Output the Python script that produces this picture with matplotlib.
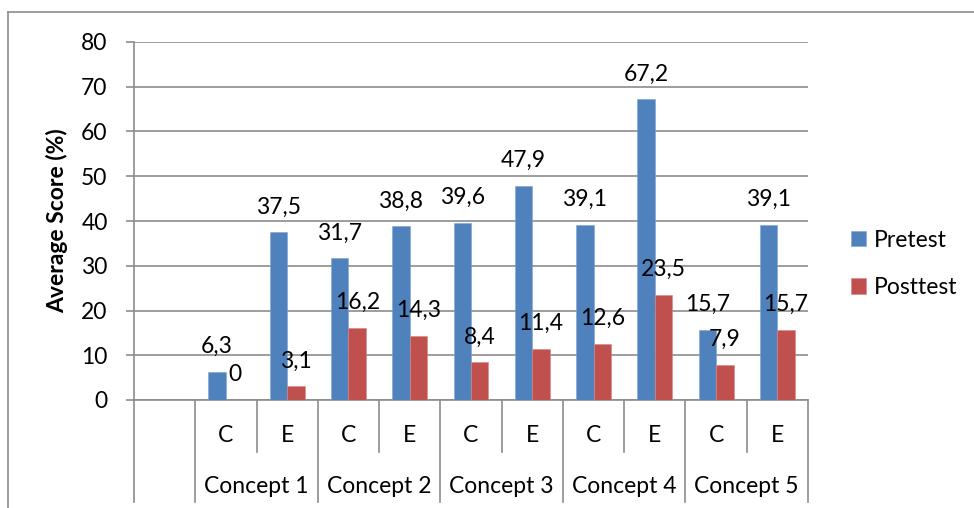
import matplotlib
matplotlib.use('Agg')
import numpy as np
import matplotlib.pyplot as plt
from matplotlib.lines import Line2D

plt.rcParams['font.family'] = ['Lato', 'DejaVu Sans']

# data: first slot of the category axis is left empty
groups = ['', 'Concept 1', 'Concept 2', 'Concept 3', 'Concept 4', 'Concept 5']
sub_labels = ['', 'C', 'E', 'C', 'E', 'C', 'E', 'C', 'E', 'C', 'E']
pretest = [np.nan, 6.3, 37.5, 31.7, 38.8, 39.6, 47.9, 39.1, 67.2, 15.7, 39.1]
posttest = [np.nan, 0, 3.1, 16.2, 14.3, 8.4, 11.4, 12.6, 23.5, 7.9, 15.7]

blue = '#4F81BD'
red = '#C0504D'
grey = '#8C8C8C'
fs = 16.5

fig = plt.figure(figsize=(9.74, 5.08), dpi=100)
ax = fig.add_axes([134/974, 1-400/508, (808-134)/974, 358/508])

x = np.arange(len(sub_labels))
w = 0.285
ax.bar(x - w/2, pretest, w, color=blue, edgecolor='#7EA3D0', linewidth=0.4, label='Pretest', zorder=3)
ax.bar(x + w/2, posttest, w, color=red, edgecolor='#D88683', linewidth=0.4, label='Posttest', zorder=3)

# value labels above the bars, decimal comma
for xs, vals in [(x - w/2, pretest), (x + w/2, posttest)]:
    for xi, v in zip(xs, vals):
        if np.isnan(v):
            continue
        txt = ('%g' % v).replace('.', ',')
        ax.annotate(txt, (xi, v), xytext=(0, 13.5), textcoords='offset points',
                    ha='center', va='baseline', fontsize=fs, zorder=5)

ax.set_xlim(-0.5, len(sub_labels) - 0.5)
ax.set_ylim(0, 80)
ax.set_yticks(range(0, 81, 10))
ax.yaxis.grid(True, color=grey, linewidth=1.2, zorder=0)
ax.set_axisbelow(True)
ax.tick_params(axis='y', length=6, width=1.2, color=grey, pad=13, labelsize=fs)
ax.set_xticks([])
for s in ['top', 'right']:
    ax.spines[s].set_visible(False)
for s in ['left', 'bottom']:
    ax.spines[s].set_color(grey)
    ax.spines[s].set_linewidth(1.2)

ax.set_ylabel('Average Score (%)', fontsize=fs, fontweight='bold', labelpad=9.5)

# two-level category axis drawn under the plot
row1 = -0.145
row2 = -0.285
trans = ax.get_xaxis_transform()
for k in range(len(sub_labels) + 1):
    xb = k - 0.5
    if k in (0, 1, 3, 5, 7, 9, 11):
        y_end = row2
    else:
        y_end = row1
    ax.plot([xb, xb], [0, y_end], transform=trans, color=grey, lw=1.2, clip_on=False)
for xi, lab in zip(x, sub_labels):
    ax.text(xi, -0.098, lab, transform=trans, ha='center', va='center', fontsize=fs)
for gi, g in enumerate(groups[1:]):
    ax.text(1.5 + 2*gi, -0.243, g, transform=trans, ha='center', va='center', fontsize=fs)

ax.legend(loc='center left', bbox_to_anchor=(851/974, 1-264/508), bbox_transform=fig.transFigure,
          frameon=False, fontsize=fs, handlelength=0.65, handleheight=0.65,
          handletextpad=0.35, labelspacing=1.15, borderaxespad=0, borderpad=0)

# outer chart frame
fig.add_artist(Line2D([8/974, 8/974], [0, 1-12/508], transform=fig.transFigure, color=grey, lw=1.2))
fig.add_artist(Line2D([8/974, 1], [1-12/508, 1-12/508], transform=fig.transFigure, color=grey, lw=1.2))

fig.savefig('out.png', dpi=100)
